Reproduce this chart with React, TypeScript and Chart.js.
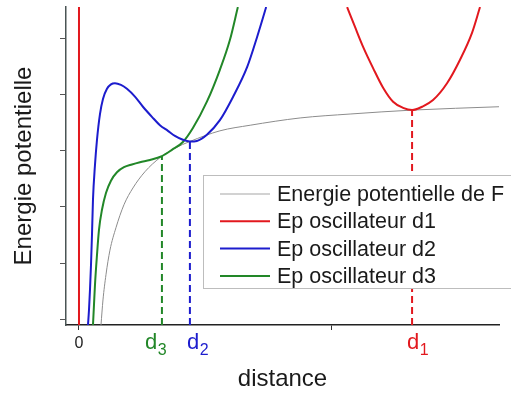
import React, { useEffect, useRef } from 'react';
import { Chart, registerables } from 'chart.js';

Chart.register(...registerables);

// ---- data ----
const grayX = [0.66, 0.72, 0.81, 0.93, 1.11, 1.35, 1.62, 1.98, 2.43, 2.88, 3.33, 4.23, 5.14, 6.64, 8.14, 10.0, 12.61];
const grayY = [-0.11, 0.34, 0.79, 1.23, 1.63, 2.04, 2.34, 2.63, 2.88, 3.05, 3.17, 3.36, 3.46, 3.59, 3.66, 3.73, 3.79];

const redX = [8.05, 8.29, 8.53, 8.83, 9.13, 9.43, 9.73, 10.0, 10.3, 10.63, 11.05, 11.44, 11.8, 12.04];
const redY = [5.57, 5.21, 4.86, 4.48, 4.13, 3.88, 3.77, 3.73, 3.79, 3.91, 4.21, 4.63, 5.11, 5.57];

const blueX = [0.27, 0.3, 0.33, 0.36, 0.39, 0.42, 0.48, 0.54, 0.63, 0.72, 0.84, 0.96, 1.08, 1.26, 1.44, 1.68, 1.92, 2.19, 2.43, 2.67, 2.88, 3.12, 3.33, 3.54, 3.84, 4.23, 4.62, 5.05, 5.35, 5.62];
const blueY = [-0.11, 0.16, 0.52, 0.96, 1.5, 2.13, 2.75, 3.2, 3.66, 3.93, 4.11, 4.19, 4.21, 4.18, 4.11, 3.97, 3.79, 3.61, 3.46, 3.36, 3.27, 3.2, 3.17, 3.18, 3.29, 3.55, 3.96, 4.5, 5.04, 5.57];

const greenX = [0.42, 0.45, 0.48, 0.54, 0.6, 0.69, 0.81, 0.96, 1.14, 1.35, 1.59, 1.83, 2.13, 2.49, 2.79, 3.12, 3.42, 3.84, 4.23, 4.53, 4.77];
const greenY = [-0.11, 0.25, 0.61, 1.14, 1.59, 1.95, 2.25, 2.47, 2.62, 2.71, 2.76, 2.8, 2.84, 2.91, 3.02, 3.16, 3.41, 3.88, 4.45, 4.98, 5.57];

const wallX = [0, 0];
const wallY = [-0.11, 5.57];

const seriesLabels = ['Energie potentielle de F', 'Ep oscillateur d1', 'Ep oscillateur d2', 'Ep oscillateur d3'];

const dNames = ['d', 'd', 'd'];
const dSubs = ['1', '2', '3'];
const dValues = [10.0, 3.33, 2.49];
const dTopY = [3.73, 3.17, 2.91];

const xTicks = [0, 7.57];
const xTickLabels = ['0', ''];
const yTicks = [0, 1, 2, 3, 4, 5];

const xMin = -0.39;
const xMax = 12.61;
const yMin = -0.107;
const yMax = 5.571;

// ---- styles ----
const RED = 'rgb(226,24,30)';
const BLUE = 'rgb(28,28,205)';
const GREEN = 'rgb(34,135,40)';
const GRAY = 'rgb(140,140,140)';
const FONT = '"Liberation Sans", Arial, sans-serif';
const dColors = [RED, BLUE, GREEN];
const dLabelShift = [-5, -3, -17];

const zip = (xs: number[], ys: number[]) => xs.map((x, i) => ({ x, y: ys[i] }));

const overlayPlugin = {
  id: 'overlay',
  afterDraw(chart: any) {
    const { ctx, chartArea, scales } = chart;
    const xs = scales.x;
    ctx.save();
    // subscript distance labels
    for (let i = 0; i < dValues.length; i++) {
      const px = xs.getPixelForValue(dValues[i]);
      const left = px + dLabelShift[i];
      ctx.fillStyle = dColors[i];
      ctx.textBaseline = 'alphabetic';
      ctx.textAlign = 'left';
      ctx.font = `22px ${FONT}`;
      ctx.fillText(dNames[i], left, chartArea.bottom + 24);
      const w = ctx.measureText(dNames[i]).width;
      ctx.font = `16px ${FONT}`;
      ctx.fillText(dSubs[i], left + w + 0.5, chartArea.bottom + 30);
    }
    // legend box inside plot
    const bx = chartArea.left + 137;
    const by = chartArea.top + 168;
    const bw = chart.width - bx + 10;
    const bh = 113;
    ctx.fillStyle = '#ffffff';
    ctx.fillRect(bx, by, bw, bh);
    ctx.strokeStyle = '#bdbdbd';
    ctx.lineWidth = 1;
    ctx.strokeRect(bx + 0.5, by + 0.5, bw, bh);
    ctx.font = `21.5px ${FONT}`;
    ctx.textBaseline = 'middle';
    for (let i = 0; i < seriesLabels.length; i++) {
      const ds = chart.data.datasets[i];
      const ry = by + 19 + i * 27.3;
      ctx.strokeStyle = i === 0 ? 'rgb(195,195,195)' : ds.borderColor;
      ctx.lineWidth = i === 0 ? 1.5 : 2;
      ctx.beginPath();
      ctx.moveTo(bx + 17, ry);
      ctx.lineTo(bx + 67, ry);
      ctx.stroke();
      ctx.fillStyle = '#1a1a1a';
      ctx.fillText(seriesLabels[i], bx + 74, ry + 1);
    }
    ctx.restore();
  },
};

export default function App() {
  const ref = useRef<HTMLCanvasElement | null>(null);
  useEffect(() => {
    if (!ref.current) return;
    const curve = (label: string, xs: number[], ys: number[], color: string, width: number, order: number) => ({
      label,
      data: zip(xs, ys),
      borderColor: color,
      backgroundColor: color,
      borderWidth: width,
      pointRadius: 0,
      fill: false,
      cubicInterpolationMode: 'monotone' as const,
      order,
    });
    const dashed = dValues.map((d, i) => ({
      label: 'guide ' + dNames[i] + dSubs[i],
      data: [
        { x: d, y: yMin },
        { x: d, y: dTopY[i] },
      ],
      borderColor: dColors[i],
      borderWidth: 2,
      borderDash: [7, 4],
      pointRadius: 0,
      fill: false,
      order: 9,
    }));
    const chart = new Chart(ref.current, {
      type: 'line',
      data: {
        datasets: [
          curve(seriesLabels[0], grayX, grayY, GRAY, 1, 5),
          curve(seriesLabels[1], redX, redY, RED, 2, 1),
          curve(seriesLabels[2], blueX, blueY, BLUE, 2, 2),
          curve(seriesLabels[3], greenX, greenY, GREEN, 2, 3),
          {
            label: 'wall',
            data: zip(wallX, wallY),
            borderColor: RED,
            borderWidth: 2,
            pointRadius: 0,
            fill: false,
            tension: 0,
            order: 4,
          },
          ...dashed,
        ] as any,
      },
      options: {
        animation: false,
        responsive: false,
        maintainAspectRatio: false,
        layout: { padding: { top: 7, right: 12, left: 0, bottom: 0 } },
        plugins: { legend: { display: false }, tooltip: { enabled: false } },
        scales: {
          x: {
            type: 'linear',
            min: xMin,
            max: xMax,
            afterBuildTicks: (s: any) => {
              s.ticks = xTicks.map((v) => ({ value: v }));
            },
            afterFit: (s: any) => {
              s.height = 71;
            },
            ticks: {
              autoSkip: false,
              maxRotation: 0,
              padding: 4,
              color: '#222',
              font: { family: FONT, size: 16 },
              callback: (_v: any, i: number) => xTickLabels[i],
            },
            grid: { drawOnChartArea: false, drawTicks: true, tickLength: 5, color: '#333' },
            border: { display: true, color: '#222', width: 1.5 },
            title: {
              display: true,
              text: 'distance',
              color: '#1a1a1a',
              font: { family: FONT, size: 24 },
              padding: { top: 0, bottom: 2 },
            },
          },
          y: {
            type: 'linear',
            min: yMin,
            max: yMax,
            afterBuildTicks: (s: any) => {
              s.ticks = yTicks.map((v) => ({ value: v }));
            },
            afterFit: (s: any) => {
              s.width = 66;
            },
            ticks: { display: false },
            grid: { drawOnChartArea: false, drawTicks: true, tickLength: 6, color: '#555' },
            border: { display: true, color: '#4a5555', width: 1.5 },
            title: {
              display: true,
              text: 'Energie potentielle',
              color: '#1a1a1a',
              font: { family: FONT, size: 24 },
              padding: { top: 10, bottom: 0 },
            },
          },
        },
      },
      plugins: [overlayPlugin],
    } as any);
    return () => chart.destroy();
  }, []);
  return (
    <canvas
      ref={ref}
      width={511}
      height={396}
      style={{ position: 'fixed', left: 0, top: 0, width: 511, height: 396, display: 'block', background: '#fff' }}
    />
  );
}
